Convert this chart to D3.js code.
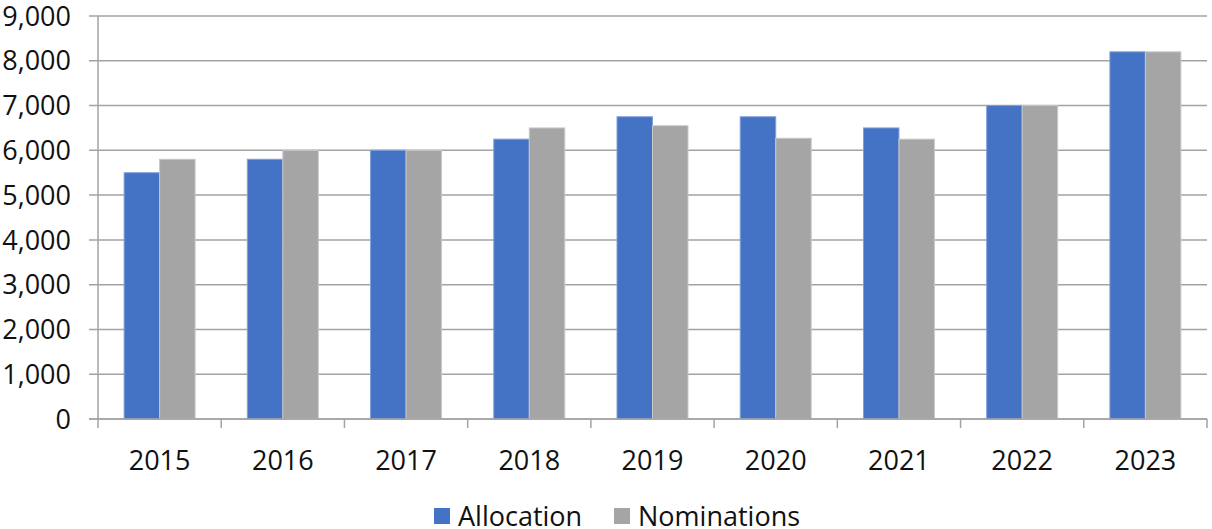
<!DOCTYPE html>
<html>
<head>
<meta charset="utf-8">
<script src="https://cdn.jsdelivr.net/npm/d3@7"></script>
<style>
  body { margin: 0; background: #fff; }
  text { font-family: "Open Sans", "Noto Sans", sans-serif; fill: #111; }
</style>
</head>
<body>
<svg id="chart" width="1212" height="529"></svg>
<script>
let years = ["2015", "2016", "2017", "2018", "2019", "2020", "2021", "2022", "2023"];
let allocation = [5500, 5800, 6000, 6250, 6750, 6750, 6500, 7000, 8200];
let nominations = [5800, 6000, 6000, 6500, 6550, 6270, 6250, 7000, 8200];
let seriesNames = ["Allocation", "Nominations"];
let yTicks = [0, 1000, 2000, 3000, 4000, 5000, 6000, 7000, 8000, 9000];

let colors = ["#4472c4", "#a5a5a5"];
let svg = d3.select("#chart");
let plotL = 98, plotR = 1207, plotT = 16, plotB = 419;
let fs = "27px";

let x = d3.scaleBand().domain(years).range([plotL, plotR]);
let y = d3.scaleLinear().domain([0, 9000]).range([plotB, plotT]);
let barW = x.bandwidth() * 0.288;

// gridlines
svg.append("g")
  .selectAll("line")
  .data(yTicks)
  .enter().append("line")
  .attr("x1", plotL - 9).attr("x2", plotR)
  .attr("y1", d => y(d)).attr("y2", d => y(d))
  .style("stroke", "#a3a3a3")
  .style("stroke-width", 1.5);

// y labels
svg.append("g")
  .selectAll("text")
  .data(yTicks)
  .enter().append("text")
  .attr("x", 71)
  .attr("y", d => y(d))
  .attr("dy", "0.36em")
  .attr("text-anchor", "end")
  .style("font-size", fs)
  .text(d => d3.format(",")(d));

// bars
let data = years.map((yr, i) => ({ year: yr, vals: [allocation[i], nominations[i]] }));
let groups = svg.append("g")
  .selectAll("g")
  .data(data)
  .enter().append("g")
  .attr("transform", d => "translate(" + (x(d.year) + x.bandwidth() / 2) + ",0)");

groups.selectAll("rect")
  .data(d => d.vals)
  .enter().append("rect")
  .attr("x", (d, i) => i === 0 ? -barW : 0)
  .attr("width", barW)
  .attr("y", d => y(d))
  .attr("height", d => y(0) - y(d))
  .style("fill", (d, i) => colors[i])
  .style("stroke", (d, i) => i === 0 ? "#7f9fd8" : "#c8c8c8")
  .style("stroke-width", 1);

// axes lines
svg.append("line")
  .attr("x1", plotL).attr("x2", plotL)
  .attr("y1", plotT).attr("y2", plotB + 9)
  .style("stroke", "#a3a3a3").style("stroke-width", 1.5);

svg.append("line")
  .attr("x1", plotL - 9).attr("x2", plotR)
  .attr("y1", plotB).attr("y2", plotB)
  .style("stroke", "#a3a3a3").style("stroke-width", 1.5);

// category ticks
svg.append("g")
  .selectAll("line")
  .data(years.slice(1))
  .enter().append("line")
  .attr("x1", d => x(d)).attr("x2", d => x(d))
  .attr("y1", plotB).attr("y2", plotB + 9)
  .style("stroke", "#a3a3a3").style("stroke-width", 1.5);

svg.append("line")
  .attr("x1", plotR).attr("x2", plotR)
  .attr("y1", plotB).attr("y2", plotB + 9)
  .style("stroke", "#a3a3a3").style("stroke-width", 1.5);

// x labels
svg.append("g")
  .selectAll("text")
  .data(years)
  .enter().append("text")
  .attr("x", d => x(d) + x.bandwidth() / 2)
  .attr("y", 460)
  .attr("dy", "0.36em")
  .attr("text-anchor", "middle")
  .style("font-size", fs)
  .text(d => d);

// legend
let legendX = [434, 614];
let legend = svg.append("g")
  .selectAll("g")
  .data(seriesNames)
  .enter().append("g")
  .attr("transform", (d, i) => "translate(" + legendX[i] + ",508)");
legend.append("rect")
  .attr("width", 16).attr("height", 16)
  .style("fill", (d, i) => colors[i]);
legend.append("text")
  .attr("x", 24).attr("y", 8)
  .attr("dy", "0.36em")
  .style("font-size", fs)
  .text(d => d);
</script>
</body>
</html>
